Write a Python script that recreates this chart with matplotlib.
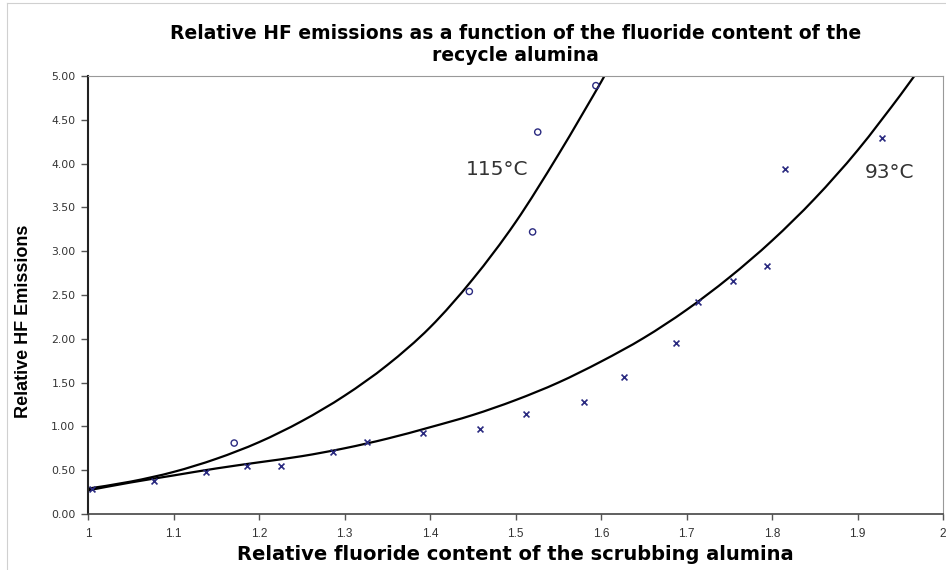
import matplotlib
matplotlib.use("Agg")
import matplotlib.pyplot as plt
from matplotlib.path import Path
from matplotlib.patches import PathPatch
from matplotlib.lines import Line2D
from matplotlib.ticker import FormatStrFormatter, MultipleLocator

# Measured points, 115 °C (circles)
x115 = [1.171, 1.446, 1.520, 1.526, 1.594]
y115 = [0.81, 2.54, 3.22, 4.36, 4.89]

# Measured points, 93 °C (crosses)
x93 = [1.005, 1.077, 1.138, 1.186, 1.226, 1.286, 1.326, 1.392, 1.459, 1.512,
       1.580, 1.627, 1.688, 1.714, 1.754, 1.794, 1.815, 1.929]
y93 = [0.29, 0.38, 0.48, 0.55, 0.55, 0.71, 0.82, 0.92, 0.97, 1.14,
       1.28, 1.56, 1.95, 2.42, 2.66, 2.83, 3.94, 4.29]

# Trend curves
cx115 = [1.00, 1.05, 1.10, 1.15, 1.20, 1.25, 1.30, 1.35, 1.40, 1.45,
         1.50, 1.55, 1.60, 1.615]
cy115 = [0.29, 0.37, 0.48, 0.63, 0.82, 1.06, 1.35, 1.70, 2.13, 2.68,
         3.33, 4.10, 4.93, 5.20]
cx93 = [1.00, 1.05, 1.10, 1.15, 1.20, 1.25, 1.30, 1.35, 1.40, 1.45,
        1.50, 1.55, 1.60, 1.65, 1.70, 1.75, 1.80, 1.85, 1.90, 1.95, 1.975]
cy93 = [0.27, 0.36, 0.44, 0.52, 0.59, 0.66, 0.75, 0.86, 0.99, 1.13,
        1.30, 1.50, 1.74, 2.01, 2.33, 2.70, 3.12, 3.60, 4.15, 4.78, 5.12]

labels_curves = ["115°C", "93°C"]
label_pos = [(1.442, 3.93), (1.909, 3.90)]

title = "Relative HF emissions as a function of the fluoride content of the\nrecycle alumina"
xlabel = "Relative fluoride content of the scrubbing alumina"
ylabel = "Relative HF Emissions"
xtick_vals = [1, 1.1, 1.2, 1.3, 1.4, 1.5, 1.6, 1.7, 1.8, 1.9, 2]
xtick_labels = ['1', '1.1', '1.2', '1.3', '1.4', '1.5', '1.6', '1.7', '1.8', '1.9', '2']


def smooth_curve(ax, xs, ys, **kw):
    """Draw a smooth (Catmull-Rom as Bezier) path through the given points."""
    pts = list(zip(xs, ys))
    n = len(pts)
    verts = [pts[0]]
    codes = [Path.MOVETO]
    for i in range(n - 1):
        p0 = pts[i - 1] if i > 0 else pts[i]
        p1 = pts[i]
        p2 = pts[i + 1]
        p3 = pts[i + 2] if i + 2 < n else pts[i + 1]
        c1 = (p1[0] + (p2[0] - p0[0]) / 6, p1[1] + (p2[1] - p0[1]) / 6)
        c2 = (p2[0] - (p3[0] - p1[0]) / 6, p2[1] - (p3[1] - p1[1]) / 6)
        verts += [c1, c2, p2]
        codes += [Path.CURVE4] * 3
    patch = PathPatch(Path(verts, codes), fill=False, transform=ax.transData, **kw)
    ax.add_patch(patch)


plt.rcParams['font.family'] = ['Liberation Sans', 'DejaVu Sans']

fig = plt.figure(figsize=(9.46, 5.70), dpi=100)
ax = fig.add_axes([88/946, 1-514/570, (943-88)/946, (514-76)/570])

navy = '#2a2a80'
smooth_curve(ax, cx115, cy115, edgecolor='black', lw=1.6, zorder=2)
smooth_curve(ax, cx93, cy93, edgecolor='black', lw=1.6, zorder=2)
ax.scatter(x115, y115, marker='o', s=20, facecolors='none', edgecolors=navy,
           linewidths=1.0, zorder=3)
ax.scatter(x93, y93, marker='x', s=18, color=navy, linewidths=1.2, zorder=3)

for lab, (lx, ly) in zip(labels_curves, label_pos):
    ax.text(lx, ly, lab, fontsize=14.5, color='#333333', va='center', ha='left',
            family=['DejaVu Sans'])

ax.set_xlim(1, 2)
ax.set_ylim(0, 5)
ax.yaxis.set_major_locator(MultipleLocator(0.5))
ax.yaxis.set_major_formatter(FormatStrFormatter('%.2f'))
ax.set_xticks(xtick_vals)
ax.set_xticklabels(xtick_labels)

for lab in ax.get_xticklabels():
    lab.set_family(['Liberation Sans', 'DejaVu Sans'])
    lab.set_fontsize(8.5)
    lab.set_color('#333333')
for lab in ax.get_yticklabels():
    lab.set_family(['DejaVu Sans'])
    lab.set_fontsize(7.8)
    lab.set_color('#333333')

ax.tick_params(axis='both', direction='out', length=5, width=1, color='#555555')
ax.tick_params(axis='y', pad=4)
ax.tick_params(axis='x', pad=6, length=4)

ax.spines['left'].set_color('#222222')
ax.spines['left'].set_linewidth(1.5)
ax.spines['bottom'].set_color('#444444')
ax.spines['bottom'].set_linewidth(1.2)
ax.spines['top'].set_color('#999999')
ax.spines['right'].set_color('#999999')

ax.set_title(title, fontsize=13.5, fontweight='bold', pad=11, linespacing=1.15,
             family=['DejaVu Sans'])
ax.set_xlabel(xlabel, fontsize=14, fontweight='bold', labelpad=4,
              family=['DejaVu Sans'])
ax.set_ylabel(ylabel, fontsize=13, fontweight='bold')
ax.yaxis.set_label_coords(-0.066, 0.44)

# faint outer chart border fragments
fig.add_artist(Line2D([7/946, 7/946], [0, 1 - 3/570], color='#d0d0d0', lw=0.8))
fig.add_artist(Line2D([7/946, 1], [1 - 3/570, 1 - 3/570], color='#d0d0d0', lw=0.8))

fig.savefig('out.png', dpi=100)
